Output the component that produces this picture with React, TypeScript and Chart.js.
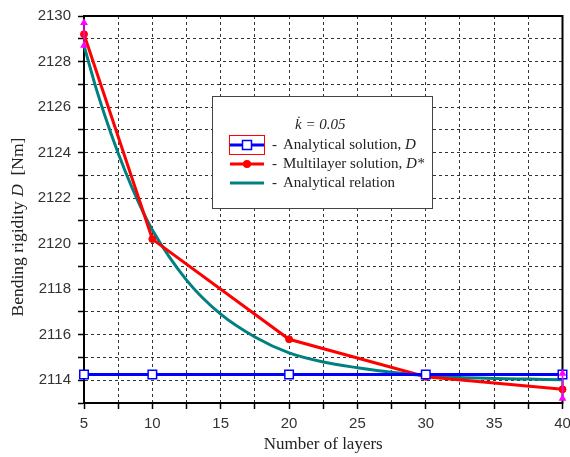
import React, { useEffect, useRef } from "react";
import { Chart, registerables } from "chart.js";

Chart.register(...registerables);

const layers = [5, 10, 20, 30, 40];
const analyticalSolution = [2114.25, 2114.25, 2114.25, 2114.25, 2114.25];
const multilayerSolution = [2129.2, 2120.2, 2115.8, 2114.15, 2113.6];
const relationX = [5, 6, 7, 8, 9, 10, 12.5, 15, 17.5, 20, 22.5, 25, 27.5, 30, 32.5, 35, 37.5, 40];
const relationY = [2128.7, 2126.6, 2124.8, 2123.2, 2121.8, 2120.6, 2118.4, 2116.9, 2115.9, 2115.2, 2114.8, 2114.55, 2114.35, 2114.2, 2114.12, 2114.08, 2114.05, 2114.02];
const markStartY = [2129.7, 2128.7];
const markEndY = [2114.3, 2113.2];

const xTitle = "Number of layers";
const kLabel = "k\u0307 = 0.05";
const legendLabels = ["Analytical solution, ", "Multilayer solution, ", "Analytical relation"];
const legendSymbols = ["D", "D*", ""];

const BLUE = "#0000ff";
const RED = "#ff0000";
const TEAL = "#008080";
const MAGENTA = "#ff00ff";

const SERIF = "'Liberation Serif', 'Times New Roman', serif";
const SANS = "'Liberation Sans', Arial, sans-serif";

const decorPlugin = {
  id: "decor",
  beforeDatasetsDraw(chart: any) {
    const { ctx, chartArea: a } = chart;
    ctx.save();
    ctx.strokeStyle = "#000";
    ctx.lineWidth = 2;
    ctx.strokeRect(a.left, a.top, a.right - a.left, a.bottom - a.top);
    ctx.restore();
  },
  afterDraw(chart: any) {
    const { ctx, chartArea: a } = chart;
    ctx.save();
    ctx.fillStyle = "#222";
    ctx.font = `17px ${SERIF}`;
    ctx.textAlign = "center";
    ctx.textBaseline = "middle";
    ctx.fillText(xTitle, (a.left + a.right) / 2, 445);

    ctx.save();
    ctx.translate(18, 227);
    ctx.rotate(-Math.PI / 2);
    const p1 = "Bending rigidity ";
    const p2 = "D";
    const p3 = "  [Nm]";
    ctx.font = `17.5px ${SERIF}`;
    const w1 = ctx.measureText(p1).width;
    const w3 = ctx.measureText(p3).width;
    ctx.font = `italic 17.5px ${SERIF}`;
    const w2 = ctx.measureText(p2).width;
    let x = -(w1 + w2 + w3) / 2;
    ctx.textAlign = "left";
    ctx.font = `17.5px ${SERIF}`;
    ctx.fillText(p1, x, 0);
    x += w1;
    ctx.font = `italic 17.5px ${SERIF}`;
    ctx.fillText(p2, x, 0);
    x += w2;
    ctx.font = `17.5px ${SERIF}`;
    ctx.fillText(p3, x, 0);
    ctx.restore();

    const bx = 212, by = 96, bw = 220, bh = 112;
    ctx.fillStyle = "#fff";
    ctx.fillRect(bx, by, bw, bh);
    ctx.strokeStyle = "#444";
    ctx.lineWidth = 1;
    ctx.strokeRect(bx + 0.5, by + 0.5, bw, bh);

    ctx.fillStyle = "#222";
    ctx.textAlign = "left";
    ctx.textBaseline = "middle";
    ctx.font = `italic 15px ${SERIF}`;
    ctx.fillText(kLabel, 295, 125);

    const rows = [145, 164, 183];
    const colors = [BLUE, RED, TEAL];
    ctx.strokeStyle = RED;
    ctx.lineWidth = 1;
    ctx.strokeRect(229.5, 135.5, 35, 19);
    rows.forEach((yy, i) => {
      ctx.strokeStyle = colors[i];
      ctx.lineWidth = 3;
      ctx.beginPath();
      ctx.moveTo(230, yy);
      ctx.lineTo(264, yy);
      ctx.stroke();
      if (i === 0) {
        ctx.fillStyle = "#fff";
        ctx.fillRect(242.5, yy - 4.5, 9, 9);
        ctx.lineWidth = 1.5;
        ctx.strokeRect(242.5, yy - 4.5, 9, 9);
      } else if (i === 1) {
        ctx.fillStyle = RED;
        ctx.beginPath();
        ctx.arc(247, yy, 4, 0, Math.PI * 2);
        ctx.fill();
      }
      ctx.fillStyle = "#222";
      ctx.font = `15px ${SERIF}`;
      ctx.fillText("-", 272, yy);
      ctx.fillText(legendLabels[i], 283, yy);
      if (legendSymbols[i]) {
        const w = ctx.measureText(legendLabels[i]).width;
        ctx.font = `italic 15px ${SERIF}`;
        ctx.fillText(legendSymbols[i], 283 + w, yy);
      }
    });
    ctx.restore();
  },
};

export default function App() {
  const ref = useRef<HTMLCanvasElement>(null);
  useEffect(() => {
    if (!ref.current) return;
    const chart = new Chart(ref.current, {
      type: "scatter",
      data: {
        datasets: [
          {
            data: markStartY.map((y) => ({ x: 5, y })),
            showLine: true,
            borderColor: MAGENTA,
            backgroundColor: MAGENTA,
            borderWidth: 1.5,
            pointStyle: "triangle",
            pointRadius: 3,
            clip: false,
          },
          {
            data: markEndY.map((y) => ({ x: 40, y })),
            showLine: true,
            borderColor: MAGENTA,
            backgroundColor: MAGENTA,
            borderWidth: 1.5,
            pointStyle: "triangle",
            pointRadius: 3,
            clip: false,
          },
          {
            data: layers.map((x, i) => ({ x, y: analyticalSolution[i] })),
            showLine: true,
            borderColor: BLUE,
            borderWidth: 3,
            pointStyle: "rect",
            pointRadius: 6,
            pointBorderWidth: 1.5,
            pointBackgroundColor: "#fff",
            pointBorderColor: BLUE,
            clip: false,
          },
          {
            data: layers.map((x, i) => ({ x, y: multilayerSolution[i] })),
            showLine: true,
            borderColor: RED,
            backgroundColor: RED,
            borderWidth: 3,
            pointStyle: "circle",
            pointRadius: 3.5,
            pointBorderWidth: 1,
            clip: false,
          },
          {
            data: relationX.map((x, i) => ({ x, y: relationY[i] })),
            showLine: true,
            borderColor: TEAL,
            borderWidth: 3,
            pointRadius: 0,
            cubicInterpolationMode: "monotone",
            clip: false,
          },
        ],
      } as any,
      options: {
        responsive: false,
        animation: false,
        events: [],
        layout: { padding: { top: 16, right: 7, left: 0, bottom: 0 } },
        plugins: { legend: { display: false }, tooltip: { enabled: false } },
        scales: {
          x: {
            type: "linear",
            min: 5,
            max: 40,
            afterFit: (s: any) => {
              s.height = 54;
              s.paddingLeft = 0;
              s.paddingRight = 0;
            },
            ticks: {
              stepSize: 2.5,
              autoSkip: false,
              maxRotation: 0,
              padding: 6,
              color: "#333",
              font: { family: SANS, size: 15 },
              callback: (v: any) => (Number(v) % 5 === 0 ? String(v) : ""),
            },
            grid: {
              color: "#333",
              lineWidth: 1,
              tickLength: 6,
              tickColor: "#000",
              tickWidth: 1.5,
            },
            border: { display: true, color: "#000", width: 2, dash: [3, 3] },
          },
          y: {
            type: "linear",
            min: 2113,
            max: 2130,
            afterFit: (s: any) => {
              s.width = 84;
              s.paddingTop = 0;
              s.paddingBottom = 0;
            },
            ticks: {
              stepSize: 1,
              autoSkip: false,
              padding: 7,
              color: "#333",
              font: { family: SANS, size: 15 },
              callback: (v: any) => (Number(v) % 2 === 0 ? String(v) : ""),
            },
            grid: {
              color: "#333",
              lineWidth: 1,
              tickLength: 6,
              tickColor: "#000",
              tickWidth: 1.5,
            },
            border: { display: true, color: "#000", width: 2, dash: [3, 3] },
          },
        },
      } as any,
      plugins: [decorPlugin],
    });
    return () => chart.destroy();
  }, []);
  return (
    <div style={{ position: "absolute", left: 0, top: 0, width: 570, height: 457, background: "#fff" }}>
      <canvas ref={ref} width={570} height={457} />
    </div>
  );
}
